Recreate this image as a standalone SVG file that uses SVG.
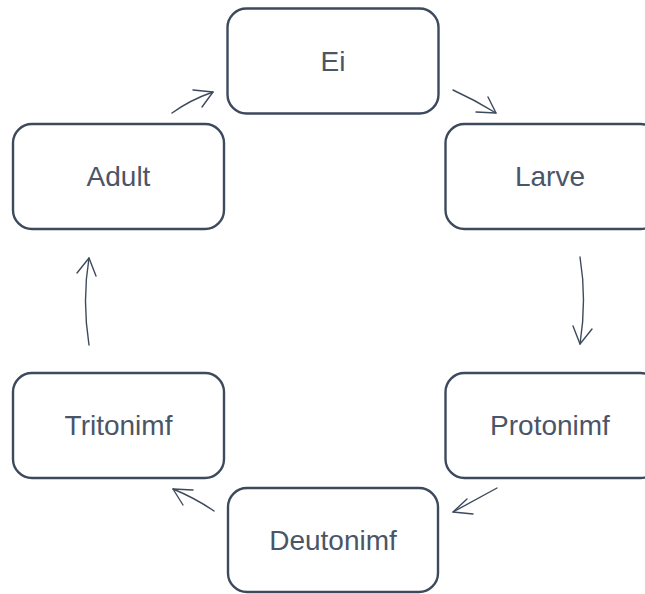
<svg xmlns="http://www.w3.org/2000/svg" width="645" height="594" viewBox="0 0 645 594">
<style>
.box{fill:#ffffff;stroke:#3d4a5c;stroke-width:2.4}
.lbl{font-family:"Liberation Sans",Arial,sans-serif;font-size:28px;fill:#4a5568;text-anchor:middle}
.con{fill:none;stroke:#3d4a5c;stroke-width:1.4;stroke-linecap:round;stroke-linejoin:round}
</style>
<rect width="645" height="594" fill="#ffffff"/>
<g id="connectors">
<path class="con" d="M172,113 Q190,100 213,92"/><path class="con" d="M193,90 L213,92 L202,107"/>
<path class="con" d="M453,90 Q475,100 496,113"/><path class="con" d="M476,112 L496,113 L488,97"/>
<path class="con" d="M580,257 Q587,300 580,344"/><path class="con" d="M573,326 L580,344 L592,329"/>
<path class="con" d="M497,488 Q475,500 453,512"/><path class="con" d="M473,514 L453,512 L467,499"/>
<path class="con" d="M214,511 Q195,498 173,489"/><path class="con" d="M193,490 L173,489 L183,505"/>
<path class="con" d="M89,345 Q82,300 89,258"/><path class="con" d="M77,273 L89,258 L96,276"/>
</g>
<g id="ei"><rect class="box" x="227.5" y="8.5" width="211" height="105" rx="19"/><text class="lbl" x="333" y="71">Ei</text></g>
<g id="larve"><rect class="box" x="445.5" y="124" width="214" height="105" rx="19"/><text class="lbl" x="550" y="186">Larve</text></g>
<g id="protonimf"><rect class="box" x="445.5" y="373" width="214" height="105" rx="19"/><text class="lbl" x="550" y="435">Protonimf</text></g>
<g id="deutonimf"><rect class="box" x="228" y="488" width="210" height="104" rx="19"/><text class="lbl" x="333" y="550">Deutonimf</text></g>
<g id="tritonimf"><rect class="box" x="13" y="373" width="211" height="105" rx="19"/><text class="lbl" x="118.5" y="435">Tritonimf</text></g>
<g id="adult"><rect class="box" x="13" y="124" width="211" height="105" rx="19"/><text class="lbl" x="118.5" y="186">Adult</text></g>
</svg>
